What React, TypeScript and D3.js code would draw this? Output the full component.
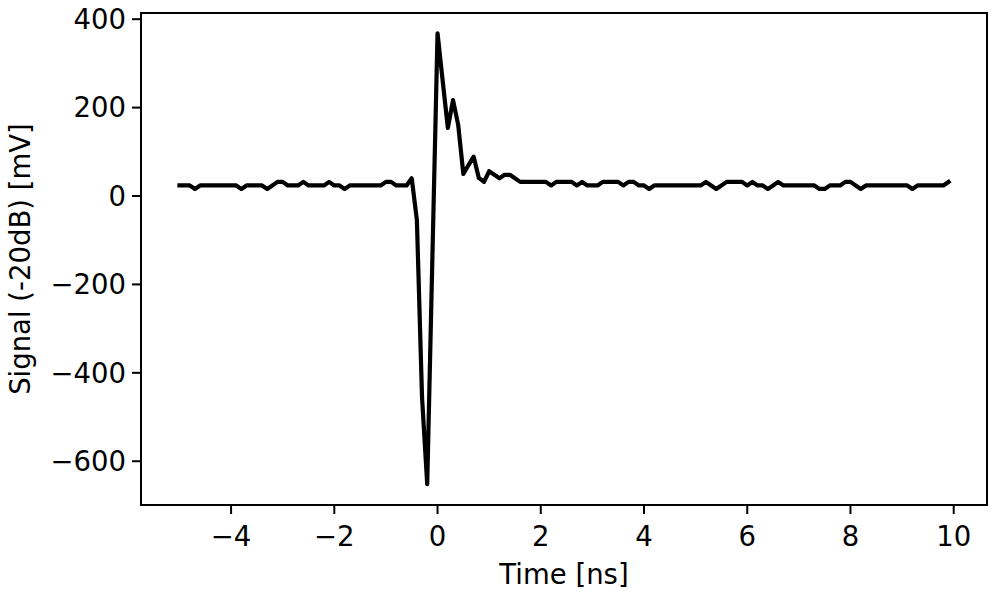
import React from "react";
import * as d3 from "d3";

const timeNs: number[] = [
  -5.0, -4.9, -4.8, -4.7, -4.6, -4.5, -4.4, -4.3, -4.2, -4.1,
  -4.0, -3.9, -3.8, -3.7, -3.6, -3.5, -3.4, -3.3, -3.2, -3.1,
  -3.0, -2.9, -2.8, -2.7, -2.6, -2.5, -2.4, -2.3, -2.2, -2.1,
  -2.0, -1.9, -1.8, -1.7, -1.6, -1.5, -1.4, -1.3, -1.2, -1.1,
  -1.0, -0.9, -0.8, -0.7, -0.6, -0.5, -0.4, -0.3, -0.2, -0.1,
  0.0, 0.1, 0.2, 0.3, 0.4, 0.5, 0.6, 0.7, 0.8, 0.9,
  1.0, 1.1, 1.2, 1.3, 1.4, 1.5, 1.6, 1.7, 1.8, 1.9,
  2.0, 2.1, 2.2, 2.3, 2.4, 2.5, 2.6, 2.7, 2.8, 2.9,
  3.0, 3.1, 3.2, 3.3, 3.4, 3.5, 3.6, 3.7, 3.8, 3.9,
  4.0, 4.1, 4.2, 4.3, 4.4, 4.5, 4.6, 4.7, 4.8, 4.9,
  5.0, 5.1, 5.2, 5.3, 5.4, 5.5, 5.6, 5.7, 5.8, 5.9,
  6.0, 6.1, 6.2, 6.3, 6.4, 6.5, 6.6, 6.7, 6.8, 6.9,
  7.0, 7.1, 7.2, 7.3, 7.4, 7.5, 7.6, 7.7, 7.8, 7.9,
  8.0, 8.1, 8.2, 8.3, 8.4, 8.5, 8.6, 8.7, 8.8, 8.9,
  9.0, 9.1, 9.2, 9.3, 9.4, 9.5, 9.6, 9.7, 9.8, 9.9,
];

const signalMv: number[] = [
  24, 24, 24, 16, 24, 24, 24, 24, 24, 24,
  24, 24, 16, 24, 24, 24, 24, 16, 24, 32,
  32, 24, 24, 24, 32, 24, 24, 24, 24, 32,
  24, 24, 16, 24, 24, 24, 24, 24, 24, 24,
  32, 32, 24, 24, 24, 40, -55, -456, -652, -140,
  368, 260, 154, 217, 161, 50, 70, 89, 41, 32,
  56, 48, 40, 48, 48, 40, 32, 32, 32, 32,
  32, 32, 24, 32, 32, 32, 32, 24, 32, 24,
  24, 24, 32, 32, 32, 32, 24, 32, 32, 24,
  24, 16, 24, 24, 24, 24, 24, 24, 24, 24,
  24, 24, 32, 24, 16, 24, 32, 32, 32, 32,
  24, 32, 24, 24, 16, 24, 32, 24, 24, 24,
  24, 24, 24, 24, 16, 16, 24, 24, 24, 32,
  32, 24, 16, 24, 24, 24, 24, 24, 24, 24,
  24, 24, 16, 24, 24, 24, 24, 24, 24, 32,
];

const xTicks: number[] = [-4, -2, 0, 2, 4, 6, 8, 10];
const yTicks: number[] = [-600, -400, -200, 0, 200, 400];
const xLabel = "Time [ns]";
const yLabel = "Signal (-20dB) [mV]";

const W = 996;
const H = 598;
const M = { left: 141, top: 13, right: 987, bottom: 505 };
const FONT = "'DejaVu Sans', sans-serif";
const FS = 27.5;

const fmt = (v: number) => (v < 0 ? "\u2212" + Math.abs(v) : String(v));

export default function App() {
  const x = d3.scaleLinear().domain([-5.745, 10.645]).range([M.left, M.right]);
  const y = d3.scaleLinear().domain([-699, 414]).range([M.bottom, M.top]);
  const pts: [number, number][] = timeNs.map((t, i) => [t, signalMv[i]]);
  const line = d3
    .line<[number, number]>()
    .x((d) => x(d[0]))
    .y((d) => y(d[1]));

  return (
    <svg
      width={W}
      height={H}
      style={{ position: "absolute", left: 0, top: 0, background: "#fff" }}
      fontFamily={FONT}
    >
      <rect x={0} y={0} width={W} height={H} fill="#fff" />
      <path
        d={line(pts) ?? ""}
        fill="none"
        stroke="#000"
        strokeWidth={4.2}
        strokeLinejoin="round"
        strokeLinecap="square"
      />
      <rect
        x={M.left}
        y={M.top}
        width={M.right - M.left}
        height={M.bottom - M.top}
        fill="none"
        stroke="#000"
        strokeWidth={2}
      />
      {xTicks.map((t) => (
        <g key={"x" + t}>
          <line x1={x(t)} x2={x(t)} y1={M.bottom} y2={M.bottom + 9} stroke="#000" strokeWidth={2} />
          <text x={x(t)} y={546} textAnchor="middle" fontSize={FS} fill="#000">
            {fmt(t)}
          </text>
        </g>
      ))}
      {yTicks.map((v) => (
        <g key={"y" + v}>
          <line x1={M.left - 9} x2={M.left} y1={y(v)} y2={y(v)} stroke="#000" strokeWidth={2} />
          <text x={M.left - 15} y={y(v)} dy="0.36em" textAnchor="end" fontSize={FS} fill="#000">
            {fmt(v)}
          </text>
        </g>
      ))}
      <text x={(M.left + M.right) / 2} y={584} textAnchor="middle" fontSize={FS} fill="#000">
        {xLabel}
      </text>
      <text
        transform={`translate(30, ${(M.top + M.bottom) / 2}) rotate(-90)`}
        textAnchor="middle"
        fontSize={FS}
        fill="#000"
      >
        {yLabel}
      </text>
    </svg>
  );
}
